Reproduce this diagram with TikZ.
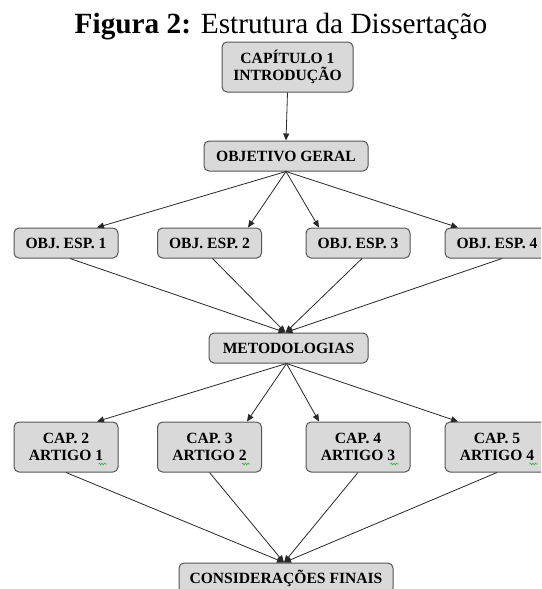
\documentclass[tikz,border=0pt]{standalone}
\usepackage{fontspec}
\setmainfont{Liberation Serif}
\usetikzlibrary{arrows.meta,calc,decorations.pathmorphing}
\definecolor{boxfill}{RGB}{217,217,217}
\definecolor{boxline}{RGB}{85,85,85}
\definecolor{linecol}{RGB}{40,40,40}
\definecolor{sqgreen}{RGB}{60,170,60}
\tikzset{
  boxnode/.style={draw=boxline, line width=1pt, fill=boxfill, rounded corners=5pt,
    align=center, inner sep=0pt, font=\fontsize{15.6}{17.8}\selectfont\bfseries},
  smallbox/.style={boxnode, minimum width=104pt, minimum height=30pt},
  tallbox/.style={boxnode, minimum width=104pt, minimum height=50pt},
  conn/.style={draw=linecol, line width=0.8pt},
  arr/.style={conn, -{Triangle[length=7pt,width=6pt]}},
  squig/.style={draw=sqgreen, line width=0.6pt, decorate,
    decoration={snake, amplitude=0.9pt, segment length=2.6pt}}
}
\begin{document}
\begin{tikzpicture}[x=1pt,y=-1pt]
\clip (0,0) rectangle (541,589);
\fill[white] (0,0) rectangle (541,589);

\node[anchor=base, font=\fontsize{29.3}{32}\selectfont, inner sep=0pt] (title) at (281,34)
  {\textbf{Figura 2:} Estrutura da Dissertação};

\node[boxnode, minimum width=131pt, minimum height=50pt,
  font=\fontsize{15.6}{16.9}\selectfont\bfseries] (cap1) at (287.5,67) {CAPÍTULO 1\\INTRODUÇÃO};
\node[boxnode, minimum width=164pt, minimum height=30pt] (og) at (286,156) {OBJETIVO GERAL};

\node[smallbox] (o1) at (66,243) {OBJ. ESP. 1};
\node[smallbox] (o2) at (209.5,243) {OBJ. ESP. 2};
\node[smallbox] (o3) at (358,243) {OBJ. ESP. 3};
\node[smallbox] (o4) at (497,243) {OBJ. ESP. 4};

\node[boxnode, minimum width=159pt, minimum height=30pt] (met) at (288.5,348) {METODOLOGIAS};

\node[tallbox] (c2) at (66,447) {CAP. 2\\ARTIGO 1};
\node[tallbox] (c3) at (209.5,447) {CAP. 3\\ARTIGO 2};
\node[tallbox] (c4) at (358,447) {CAP. 4\\ARTIGO 3};
\node[tallbox] (c5) at (497,447) {CAP. 5\\ARTIGO 4};

\node[boxnode, minimum width=214pt, minimum height=30pt] (cf) at (286,578) {CONSIDERAÇÕES FINAIS};

% connectors
\draw[arr] (cap1.south) -- (og.north);

\draw[arr] (og.south) -- ($(o1.north)+(31,0)$);
\draw[arr] (og.south) -- ($(o2.north)+(38.5,0)$);
\draw[arr] (og.south) -- ($(o3.north)+(-39,0)$);
\draw[arr] (og.south) -- ($(o4.north)+(-39,0)$);

\draw[arr] ($(o1.south)+(4,0)$) -- ($(met.north)+(-3,0)$);
\draw[arr] ($(o2.south)+(3,0)$) -- ($(met.north)+(-3,0)$);
\draw[arr] ($(o3.south)+(4,0)$) -- ($(met.north)+(-3,0)$);
\draw[arr] ($(o4.south)+(5,0)$) -- ($(met.north)+(-3,0)$);

\draw[arr] ($(met.south)+(-2,0)$) -- ($(c2.north)+(31,0)$);
\draw[arr] ($(met.south)+(-2,0)$) -- ($(c3.north)+(37.5,0)$);
\draw[arr] ($(met.south)+(-2,0)$) -- ($(c4.north)+(-39,0)$);
\draw[arr] ($(met.south)+(-2,0)$) -- ($(c5.north)+(-39,0)$);

\draw[arr] (c2.south) -- ($(cf.north)+(-2,0)$);
\draw[arr] (c3.south) -- ($(cf.north)+(-2,0)$);
\draw[arr] (c4.south) -- ($(cf.north)+(-2,0)$);
\draw[arr] (c5.south) -- ($(cf.north)+(-2,0)$);

% spell-check squiggles
\foreach \n in {c2,c3,c4,c5}{
  \draw[squig] ($(\n.south east)+(-20,-8.5)$) -- ($(\n.south east)+(-12,-8.5)$);
}
\end{tikzpicture}
\end{document}
